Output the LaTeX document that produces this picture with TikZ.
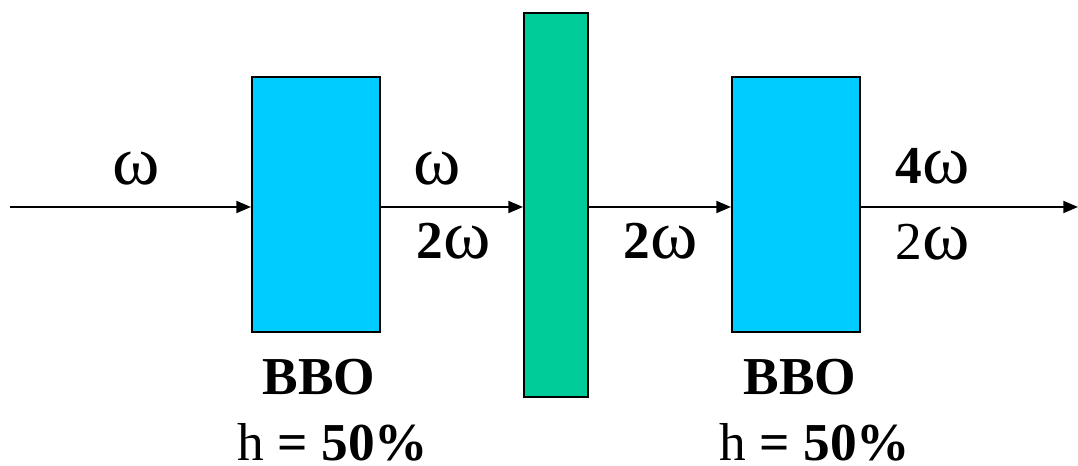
\documentclass[tikz,border=0pt]{standalone}
\usepackage{fontspec}
\setmainfont{Liberation Serif}
\usetikzlibrary{arrows.meta}
\definecolor{bbocyan}{HTML}{00CCFF}
\definecolor{plategreen}{HTML}{00CC99}
\newcommand{\om}{\scalebox{1.35}[1.3]{ω}}
\begin{document}
\begin{tikzpicture}[x=0.75pt,y=-0.75pt,
  crystal/.style={draw=black,line width=1.5pt,fill=bbocyan,minimum width=96pt,minimum height=191.25pt,inner sep=0pt},
  plate/.style={draw=black,line width=1.5pt,fill=plategreen,minimum width=48pt,minimum height=288pt,inner sep=0pt},
  beam/.style={line width=1.5pt,-{Triangle[length=11pt,width=9pt]}},
  lbl/.style={inner sep=0pt,anchor=base,font=\fontsize{40}{48}\selectfont}]
\useasboundingbox (0,0) rectangle (1078,466);
\node[crystal] (b1) at (316,204.5) {};
\node[plate] (g) at (556,205) {};
\node[crystal] (b2) at (796,204.5) {};
\coordinate (s) at (10,207);
\coordinate (e) at (1078,207);
\draw[beam] (s) -- (s -| b1.west);
\draw[beam] (b1.east |- s) -- (g.west |- s);
\draw[beam] (g.east |- s) -- (b2.west |- s);
\draw[beam] (b2.east |- s) -- (e);
\node[lbl] (w1) at (136,185) {\om};
\node[lbl] (w2) at (437,185) {\om};
\node[lbl] (w3) at (454,259) {\textbf{2}\om};
\node[lbl] (w4) at (661,259) {\textbf{2}\om};
\node[lbl] (w5) at (933,184) {\textbf{4}\om};
\node[lbl] (w6) at (933,260) {2\om};
\node[lbl] (t1) at (319,395) {\textbf{BBO}};
\node[lbl] (e1) at (333,460) {h \textbf{= 50\%}};
\node[lbl] (t2) at (800,395) {\textbf{BBO}};
\node[lbl] (e2) at (815,460) {h \textbf{= 50\%}};
\end{tikzpicture}
\end{document}
